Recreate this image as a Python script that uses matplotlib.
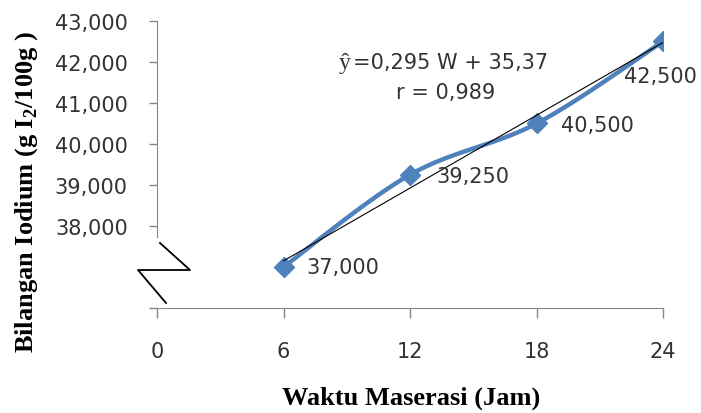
import numpy as np
import matplotlib
matplotlib.use("Agg")
import matplotlib.pyplot as plt
from matplotlib.lines import Line2D

# Data
waktu = [6, 12, 18, 24]
iodium = [37.000, 39.250, 40.500, 42.500]
labels = ["37,000", "39,250", "40,500", "42,500"]
yticks = [38, 39, 40, 41, 42, 43]
ytick_labels = ["38,000", "39,000", "40,000", "41,000", "42,000", "43,000"]
xticks = [0, 6, 12, 18, 24]
xtick_labels = ["0", "6", "12", "18", "24"]

W, H = 701, 414
fig = plt.figure(figsize=(W / 100, H / 100), dpi=100)
ax = fig.add_axes([157 / W, 1 - 309 / H, (663 - 157) / W, (309 - 22) / H])
ax.set_xlim(0, 24)
ax.set_ylim(36, 43)

txt_color = "#333333"
axis_color = "#868686"
blue = "#4F81BD"

# Smoothed line (Catmull-Rom in display space, like Excel smoothing)
fig.canvas.draw()
pts = ax.transData.transform(np.column_stack([waktu, iodium]))
curve = [pts[0]]
n = len(pts)
for i in range(n - 1):
    p0 = pts[i - 1] if i > 0 else pts[i]
    p1 = pts[i]
    p2 = pts[i + 1]
    p3 = pts[i + 2] if i + 2 < n else pts[i + 1]
    c1 = p1 + (p2 - p0) / 6
    c2 = p2 - (p3 - p1) / 6
    t = np.linspace(0, 1, 40)[1:, None]
    seg = (1 - t) ** 3 * p1 + 3 * (1 - t) ** 2 * t * c1 + 3 * (1 - t) * t ** 2 * c2 + t ** 3 * p2
    curve.extend(seg)
curve = np.array(curve)
curve_data = ax.transData.inverted().transform(curve)
ax.plot(curve_data[:, 0], curve_data[:, 1], color=blue, lw=3.2, solid_capstyle="round", zorder=3)
ax.plot(waktu, iodium, linestyle="none", marker="D", ms=10.5, color=blue, zorder=4)

# Trend line
xw = np.array(waktu, dtype=float)
slope, intercept = np.polyfit(xw, iodium, 1)
xt = np.array([xw.min(), xw.max()])
ax.plot(xt, slope * xt + intercept, color="black", lw=0.8, zorder=5)

# Data labels
offsets = [(23, 0), (26, -1), (25, -1.5), (-39, -35)]
for x, y, lab, off in zip(waktu, iodium, labels, offsets):
    ax.annotate(lab, (x, y), xytext=off, textcoords="offset pixels",
                ha="left", va="center", fontsize=15, color=txt_color, zorder=6)

# Equation
fig.text(345 / W, 1 - 63 / H, "ŷ", family="Liberation Serif", fontsize=17,
         ha="center", va="center", color=txt_color)
fig.text(353 / W, 1 - 63 / H, "=0,295 W + 35,37", fontsize=15,
         ha="left", va="center", color=txt_color)
fig.text(446 / W, 1 - 93 / H, "r = 0,989", fontsize=15,
         ha="center", va="center", color=txt_color)

# Axes styling
for s in ["top", "right"]:
    ax.spines[s].set_visible(False)
ax.spines["left"].set_color(axis_color)
ax.spines["bottom"].set_color(axis_color)
ax.spines["left"].set_bounds(37.73, 43)

ax.set_yticks([36] + yticks)
ax.set_yticklabels([""] + ytick_labels)
ax.set_xticks(xticks)
ax.set_xticklabels(xtick_labels)
ax.tick_params(axis="y", direction="out", length=6, width=1, color=axis_color,
               labelsize=15, labelcolor=txt_color, pad=15)
ax.tick_params(axis="x", direction="out", length=7, width=1, color=axis_color,
               labelsize=15, labelcolor=txt_color, pad=17)

# Axis break zigzag
zz = np.array([[160, 244], [190, 271], [138, 271], [166, 304]], dtype=float)
fig.add_artist(Line2D(zz[:, 0] / W, 1 - zz[:, 1] / H, color="black", lw=1.3,
                      transform=fig.transFigure))

# Axis labels
fig.text(411 / W, 1 - 398 / H, "Waktu Maserasi (Jam)", family="Liberation Serif",
         weight="bold", fontsize=19, ha="center", va="center", color="black")
fig.text(27 / W, 1 - 192 / H, r"Bilangan Iodium (g I$_\mathregular{2}$/100g )",
         family="Liberation Serif", weight="bold", fontsize=19, rotation=90,
         ha="center", va="center", color="black")

fig.savefig("out.png", dpi=100)
